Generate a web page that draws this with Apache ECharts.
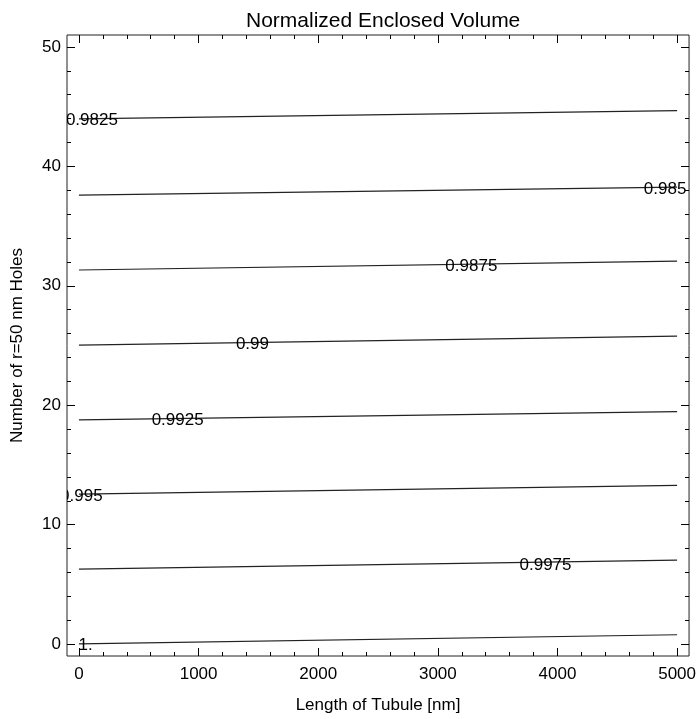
<!DOCTYPE html>
<html>
<head>
<meta charset="utf-8">
<title>Normalized Enclosed Volume</title>
<script src="https://cdn.jsdelivr.net/npm/echarts@6.0.0/dist/echarts.min.js"></script>
<style>
  html, body { margin: 0; padding: 0; background: #fff; }
  #chart { width: 699px; height: 719px; }
</style>
</head>
<body>
<div id="chart"></div>
<script>
  // contour levels, one line each
  var contourLevels = ['0.9825', '0.985', '0.9875', '0.99', '0.9925', '0.995', '0.9975', '1.'];
  var lineX = [0, 5000];
  var yAtStart = [43.97, 37.6, 31.32, 25.03, 18.78, 12.56, 6.28, 0.02];
  var yAtEnd = [44.67, 38.27, 32.07, 25.78, 19.47, 13.28, 7.03, 0.78];
  // where the level labels sit
  var labelX = [108, 4900, 3280, 1450, 825, 20, 3900, 55];
  var labelY = [44.0, 38.25, 31.8, 25.25, 18.9, 12.56, 6.8, 0.05];

  var xMajor = [0, 1000, 2000, 3000, 4000, 5000];
  var xMinor = [0, 200, 400, 600, 800, 1000, 1200, 1400, 1600, 1800, 2000, 2200, 2400, 2600, 2800,
    3000, 3200, 3400, 3600, 3800, 4000, 4200, 4400, 4600, 4800, 5000];
  var yMajor = [0, 10, 20, 30, 40, 50];
  var yMinor = [0, 2, 4, 6, 8, 10, 12, 14, 16, 18, 20, 22, 24, 26, 28, 30, 32, 34, 36, 38, 40,
    42, 44, 46, 48, 50];

  var FONT = '"Liberation Sans", Arial, Helvetica, sans-serif';

  var chart = echarts.init(document.getElementById('chart'));

  function plain(v) { return String(v); }

  function xAx(pos, ticks, len, labels) {
    return {
      type: 'value', min: -100, max: 5100, position: pos,
      axisLine: { show: false, onZero: false },
      splitLine: { show: false },
      axisTick: { show: true, inside: true, length: len, customValues: ticks,
        lineStyle: { color: '#000', width: 1 } },
      axisLabel: labels ? { show: true, customValues: xMajor, margin: 10, color: '#000',
        fontSize: 17, fontFamily: FONT, formatter: plain } : { show: false }
    };
  }
  function yAx(pos, ticks, len, labels) {
    return {
      type: 'value', min: -1, max: 51, position: pos,
      axisLine: { show: false, onZero: false },
      splitLine: { show: false },
      axisTick: { show: true, inside: true, length: len, customValues: ticks,
        lineStyle: { color: '#000', width: 1 } },
      axisLabel: labels ? { show: true, customValues: yMajor, margin: 6, color: '#000',
        fontSize: 17, fontFamily: FONT, formatter: plain } : { show: false }
    };
  }

  var xAxes = [xAx('bottom', xMajor, 8, true), xAx('bottom', xMinor, 4, false),
    xAx('top', xMajor, 8, false), xAx('top', xMinor, 4, false)];
  xAxes[0].name = 'Length of Tubule [nm]';
  xAxes[0].nameLocation = 'middle';
  xAxes[0].nameGap = 41;
  xAxes[0].nameTextStyle = { color: '#000', fontSize: 17, fontFamily: FONT };

  var yAxes = [yAx('left', yMajor, 8, true), yAx('left', yMinor, 4, false),
    yAx('right', yMajor, 8, false), yAx('right', yMinor, 4, false)];
  yAxes[0].name = 'Number of r=50 nm Holes';
  yAxes[0].nameLocation = 'middle';
  yAxes[0].nameGap = 41;
  yAxes[0].nameTextStyle = { color: '#000', fontSize: 17, fontFamily: FONT };

  var series = contourLevels.map(function (lvl, i) {
    return {
      name: lvl,
      type: 'line',
      xAxisIndex: 0, yAxisIndex: 0,
      data: [[lineX[0], yAtStart[i]], [lineX[1], yAtEnd[i]]],
      showSymbol: false,
      symbol: 'none',
      silent: true,
      lineStyle: { color: '#222', width: 1.2 },
      z: 2
    };
  });

  // level labels on top of the lines, clipped to the frame
  series.push({
    type: 'custom',
    xAxisIndex: 0, yAxisIndex: 0,
    clip: true,
    silent: true,
    z: 5,
    data: labelX.map(function (x, i) { return [x, labelY[i]]; }),
    renderItem: function (params, api) {
      var p = api.coord([api.value(0), api.value(1)]);
      return {
        type: 'text',
        x: p[0], y: p[1] + 2,
        style: {
          text: contourLevels[params.dataIndex],
          fill: '#000',
          fontSize: 17,
          fontFamily: FONT,
          align: 'center',
          verticalAlign: 'middle'
        }
      };
    }
  });

  var option = {
    animation: false,
    backgroundColor: '#fff',
    title: {
      text: 'Normalized Enclosed Volume',
      left: 241,
      top: 6,
      textStyle: { color: '#000', fontSize: 21, fontWeight: 'normal', fontFamily: FONT }
    },
    grid: {
      left: 67, right: 7, top: 35, bottom: 61,
      show: true,
      borderColor: '#222',
      borderWidth: 1,
      backgroundColor: 'transparent'
    },
    xAxis: xAxes,
    yAxis: yAxes,
    series: series
  };

  chart.setOption(option);
</script>
</body>
</html>
